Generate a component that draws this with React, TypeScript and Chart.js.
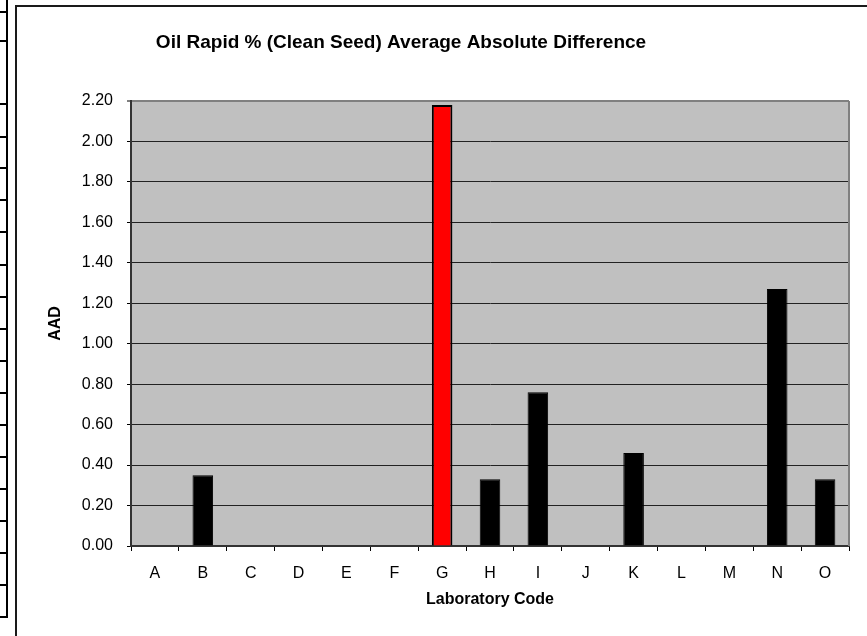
import React, { useEffect, useRef } from "react";
import { Chart, registerables } from "chart.js";

Chart.register(...registerables);

const chartTitle = "Oil Rapid % (Clean Seed) Average Absolute Difference";
const xAxisTitle = "Laboratory Code";
const yAxisTitle = "AAD";
const labCodes = ["A", "B", "C", "D", "E", "F", "G", "H", "I", "J", "K", "L", "M", "N", "O"];
const aadValues: (number | null)[] = [null, 0.35, null, null, null, null, 2.18, 0.33, 0.76, null, 0.46, null, null, 1.27, 0.33];
const highlightLab = "G";
const yMin = 0;
const yMax = 2.2;
const yStep = 0.2;

const FONT = "'Liberation Sans', Arial, Helvetica, sans-serif";
// spreadsheet cell borders visible at the left edge of the picture
const stripTicks = [12, 41, 104, 137, 168, 200, 232, 265, 297, 329, 361, 393, 425, 457, 489, 521, 553, 585, 617];

const plotBackground = {
  id: "plotBackground",
  beforeDraw(chart: any) {
    const { ctx, chartArea: a } = chart;
    ctx.save();
    ctx.fillStyle = "#C0C0C0";
    ctx.fillRect(a.left, a.top, a.right - a.left, a.bottom - a.top);
    ctx.restore();
  },
  afterDraw(chart: any) {
    const { ctx, chartArea: a } = chart;
    ctx.save();
    ctx.strokeStyle = "#808080";
    ctx.lineWidth = 2;
    ctx.beginPath();
    ctx.moveTo(a.right, a.top);
    ctx.lineTo(a.right, a.bottom);
    ctx.stroke();
    ctx.restore();
  },
};

const titlePlugin = {
  id: "excelTitle",
  afterDraw(chart: any) {
    const { ctx } = chart;
    ctx.save();
    ctx.font = `bold 19px ${FONT}`;
    ctx.fillStyle = "#000";
    ctx.textAlign = "center";
    ctx.textBaseline = "alphabetic";
    ctx.fillText(chartTitle, 384, 41);
    ctx.restore();
  },
};

export default function App() {
  const canvasRef = useRef<HTMLCanvasElement | null>(null);

  useEffect(() => {
    if (!canvasRef.current) return;
    const chart = new Chart(canvasRef.current, {
      type: "bar",
      data: {
        labels: labCodes,
        datasets: [
          {
            data: aadValues,
            backgroundColor: labCodes.map((c) => (c === highlightLab ? "#FF0000" : "#000000")),
            borderColor: "#000000",
            borderWidth: labCodes.map((c) => (c === highlightLab ? 2 : 1)),
            barPercentage: 0.43,
            categoryPercentage: 1,
          },
        ],
      },
      plugins: [plotBackground, titlePlugin],
      options: {
        animation: false,
        responsive: false,
        devicePixelRatio: 1,
        layout: { padding: { top: 94, right: 18, left: 0, bottom: 0 } },
        plugins: {
          legend: { display: false },
          tooltip: { enabled: false },
          title: { display: false },
        },
        scales: {
          x: {
            offset: true,
            grid: {
              offset: true,
              drawOnChartArea: false,
              drawTicks: true,
              tickLength: 5,
              color: "#000",
              lineWidth: 1,
            },
            border: { display: true, color: "#333", width: 2 },
            ticks: {
              color: "#000",
              font: { family: FONT, size: 16 },
              padding: 13,
              autoSkip: false,
              maxRotation: 0,
            },
            title: {
              display: true,
              text: xAxisTitle,
              color: "#000",
              font: { family: FONT, size: 16, weight: "bold" },
              padding: { top: 0, bottom: 27 },
            },
            afterFit: (s: any) => {
              s.height = 90;
            },
          },
          y: {
            min: yMin,
            max: yMax,
            ticks: {
              stepSize: yStep,
              color: "#000",
              font: { family: FONT, size: 16 },
              padding: 14,
              callback: (v: any) => Number(v).toFixed(2),
            },
            grid: {
              color: (ctx: any) => (ctx.tick && ctx.tick.value >= yMax - 1e-9 ? "#808080" : "#222"),
              lineWidth: (ctx: any) => (ctx.tick && ctx.tick.value >= yMax - 1e-9 ? 2 : 1),
              tickLength: 4,
              tickColor: "#000",
              tickWidth: 1,
            },
            border: { display: true, color: "#333", width: 2 },
            title: {
              display: true,
              text: yAxisTitle,
              color: "#000",
              font: { family: FONT, size: 16, weight: "bold" },
              padding: { top: 29, bottom: 0 },
            },
            afterFit: (s: any) => {
              s.width = 114;
            },
          },
        },
      } as any,
    });
    return () => chart.destroy();
  }, []);

  return (
    <div
      style={{
        position: "absolute",
        left: 0,
        top: 0,
        width: 867,
        height: 636,
        overflow: "hidden",
        background: "#fff",
      }}
    >
      <div style={{ position: "absolute", left: 6, top: 0, width: 2, height: 618, background: "#000" }} />
      {stripTicks.map((y) => (
        <div key={y} style={{ position: "absolute", left: 0, top: y - 1, width: 8, height: 2, background: "#000" }} />
      ))}
      <div
        style={{
          position: "absolute",
          left: 15,
          top: 5,
          width: 900,
          height: 700,
          border: "2px solid #1a1a1a",
          boxSizing: "border-box",
        }}
      />
      <canvas
        ref={canvasRef}
        width={850}
        height={629}
        style={{ position: "absolute", left: 17, top: 7, width: 850, height: 629 }}
      />
    </div>
  );
}
